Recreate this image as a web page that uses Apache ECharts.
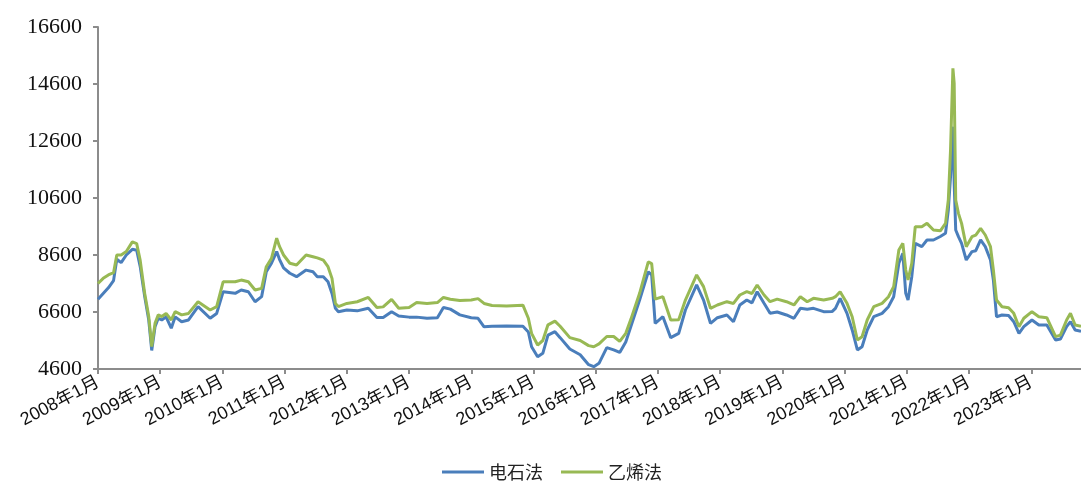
<!DOCTYPE html>
<html>
<head>
<meta charset="utf-8">
<script src="https://cdn.jsdelivr.net/npm/echarts@6/dist/echarts.min.js"></script>
<style>
html,body{margin:0;padding:0;background:#fff;}
#chart{width:1081px;height:484px;}
</style>
</head>
<body>
<div id="chart"></div>
<script>
const seriesNames = ['电石法', '乙烯法'];
const yTicks = [4600, 6600, 8600, 10600, 12600, 14600, 16600];
const xTickYears = [2008,2009,2010,2011,2012,2013,2014,2015,2016,2017,2018,2019,2020,2021,2022,2023];

const dates = [
'2008-01-01','2008-02-01','2008-03-01','2008-04-01','2008-04-20','2008-05-15','2008-06-15','2008-07-20','2008-08-15','2008-09-05',
'2008-10-01','2008-10-25','2008-11-12','2008-12-01','2008-12-20','2009-01-10','2009-02-05','2009-03-05','2009-03-28','2009-05-05',
'2009-06-15','2009-08-10','2009-10-20','2009-11-28','2010-01-05','2010-03-15','2010-04-20','2010-06-01','2010-07-10','2010-08-18',
'2010-09-15','2010-10-15','2010-11-15','2010-12-01','2010-12-25','2011-02-01','2011-03-10','2011-05-05','2011-06-15','2011-07-10',
'2011-08-15','2011-09-12','2011-10-05','2011-10-25','2011-11-12','2012-01-01','2012-03-01','2012-05-05','2012-06-25','2012-08-01',
'2012-09-20','2012-11-01','2013-01-01','2013-02-15','2013-04-15','2013-06-15','2013-07-20','2013-08-30','2013-10-25','2013-12-31',
'2014-02-10','2014-03-15','2014-05-01','2014-07-25','2014-10-30','2014-12-01','2014-12-20','2015-01-25','2015-02-25','2015-03-25',
'2015-05-05','2015-06-05','2015-08-01','2015-10-01','2015-11-20','2015-12-20','2016-01-20','2016-03-05','2016-04-15','2016-05-20',
'2016-06-25','2016-07-25','2016-09-15','2016-11-05','2016-11-25','2016-12-15','2017-01-30','2017-03-15','2017-05-01','2017-06-10',
'2017-08-15','2017-09-25','2017-11-05','2017-12-15','2018-02-10','2018-03-18','2018-04-25','2018-06-05','2018-07-05','2018-08-05',
'2018-09-15','2018-10-20','2018-12-01','2019-01-25','2019-03-08','2019-04-15','2019-05-25','2019-07-01','2019-08-30','2019-10-20',
'2019-11-08','2019-12-05','2020-01-15','2020-02-15','2020-03-15','2020-04-12','2020-05-12','2020-06-20','2020-08-08','2020-09-15',
'2020-10-15','2020-11-15','2020-12-08','2020-12-25','2021-01-08','2021-01-30','2021-02-20','2021-03-28','2021-04-28','2021-06-05',
'2021-07-15','2021-08-15','2021-09-01','2021-09-14','2021-09-28','2021-10-05','2021-10-14','2021-10-30','2021-11-18','2021-12-15',
'2022-01-18','2022-02-10','2022-03-08','2022-04-05','2022-05-05','2022-05-22','2022-06-10','2022-07-12','2022-08-20','2022-09-20',
'2022-10-20','2022-11-18','2023-01-05','2023-02-15','2023-04-01','2023-05-22','2023-06-20','2023-07-26','2023-08-18','2023-09-15',
'2023-10-19'
];

const carbide = [
7050,7250,7450,7700,8450,8330,8600,8800,8770,8200,
7150,6320,5250,6080,6380,6320,6430,6030,6430,6260,
6320,6790,6380,6550,7310,7255,7370,7310,6960,7140,
8010,8310,8720,8450,8150,7960,7840,8070,8010,7840,
7840,7660,7250,6730,6610,6670,6640,6730,6410,6410,
6610,6460,6420,6420,6380,6400,6760,6700,6500,6400,
6380,6080,6100,6110,6100,5900,5380,5030,5150,5790,
5910,5700,5300,5100,4750,4680,4800,5350,5270,5180,
5550,6100,7020,8010,7900,6200,6435,5700,5850,6670,
7550,7020,6200,6400,6495,6260,6846,7021,6920,7313,
6904,6553,6600,6495,6380,6728,6700,6728,6611,6620,
6728,7080,6553,5969,5267,5383,5969,6435,6553,6787,
7137,8309,8660,7255,7021,7840,9010,8893,9127,9127,
9250,9360,10179,11348,13102,11114,9477,9244,9010,8425,
8717,8750,9127,8893,8425,7723,6435,6495,6480,6260,
5851,6085,6319,6144,6144,5617,5650,6085,6260,5969,
5920
];

const ethylene = [
7600,7780,7900,7980,8600,8600,8720,9060,9000,8420,
7260,6440,5390,6200,6500,6440,6550,6320,6610,6500,
6550,6960,6670,6790,7660,7660,7720,7660,7370,7430,
8190,8480,9190,8900,8600,8310,8250,8600,8540,8500,
8420,8190,7780,6900,6790,6900,6960,7110,6760,6780,
7045,6730,6760,6930,6900,6930,7110,7050,7000,7020,
7070,6900,6830,6810,6840,6380,5850,5440,5600,6150,
6280,6100,5700,5600,5420,5380,5480,5740,5740,5570,
5850,6350,7255,8360,8300,7050,7137,6320,6330,7020,
7900,7490,6730,6846,6962,6900,7196,7313,7250,7548,
7196,6962,7050,6960,6846,7137,6960,7080,7021,7080,
7137,7313,6904,6435,5617,5734,6319,6787,6904,7137,
7489,8776,9010,8074,7723,8309,9594,9594,9711,9477,
9450,9711,10530,12285,15152,14625,10530,10062,9711,8893,
9244,9300,9536,9302,8893,8074,7021,6787,6750,6553,
6085,6380,6611,6435,6400,5734,5790,6319,6553,6144,
6100
];

function toYear(s) {
  const p = s.split('-').map(Number);
  return p[0] + (p[1] - 1) / 12 + (p[2] - 1) / 365;
}
const xs = dates.map(toYear);
const pairs = arr => arr.map((v, i) => [xs[i], v]);

const chart = echarts.init(document.getElementById('chart'), null, {renderer: 'canvas'});
chart.setOption({
  animation: false,
  backgroundColor: '#ffffff',
  grid: {left: 98, right: 0, top: 27, bottom: 115, containLabel: false},
  legend: {
    data: seriesNames,
    left: 437,
    top: 458,
    icon: 'rect',
    itemWidth: 42,
    itemHeight: 3,
    itemGap: 18,
    textStyle: {fontSize: 18, color: '#222', fontFamily: "'Noto Sans CJK SC', sans-serif"}
  },
  xAxis: {
    type: 'value',
    min: 2008,
    max: toYear('2023-10-19'),
    splitLine: {show: false},
    axisLine: {lineStyle: {color: '#8c8c8c', width: 2}},
    axisTick: {show: true, length: 5, lineStyle: {color: '#8c8c8c', width: 2}, customValues: xTickYears},
    axisLabel: {
      customValues: xTickYears,
      rotate: 28,
      margin: 12,
      fontSize: 18,
      color: '#111',
      fontFamily: "'Liberation Sans', 'Noto Sans CJK SC', sans-serif",
      formatter: v => Math.round(v) + '年1月'
    }
  },
  yAxis: {
    type: 'value',
    min: 4600,
    max: 16600,
    splitLine: {show: false},
    axisLine: {show: true, lineStyle: {color: '#8c8c8c', width: 2}},
    axisTick: {show: true, length: 5, lineStyle: {color: '#8c8c8c', width: 2}, customValues: yTicks},
    axisLabel: {
      customValues: yTicks,
      margin: 16,
      fontSize: 22,
      color: '#111',
      fontFamily: "'Liberation Serif', 'DejaVu Serif', serif",
      formatter: v => String(Math.round(v))
    }
  },
  series: [
    {
      name: seriesNames[0],
      type: 'line',
      data: pairs(carbide),
      showSymbol: false,
      symbol: 'none',
      lineStyle: {color: '#4a7ebb', width: 3},
      itemStyle: {color: '#4a7ebb'}
    },
    {
      name: seriesNames[1],
      type: 'line',
      data: pairs(ethylene),
      showSymbol: false,
      symbol: 'none',
      lineStyle: {color: '#98b954', width: 3},
      itemStyle: {color: '#98b954'}
    }
  ]
});
</script>
</body>
</html>
